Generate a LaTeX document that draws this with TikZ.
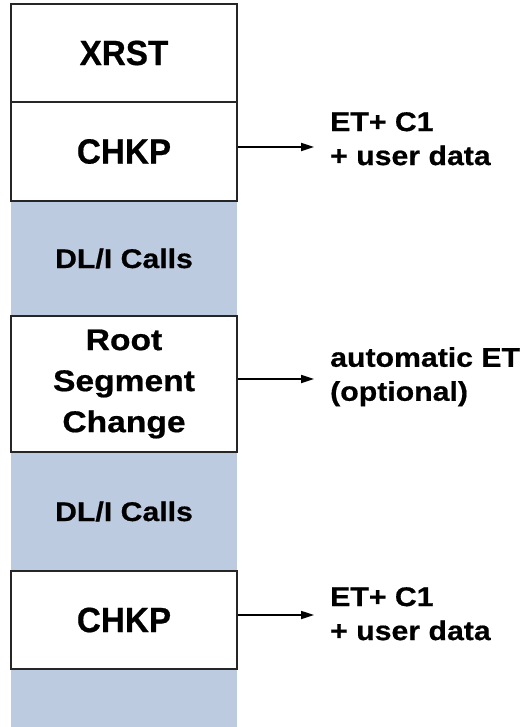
\documentclass[tikz,border=0pt]{standalone}
\usepackage{fontspec}
\setmainfont{Liberation Sans}
\newfontfamily\widefont{Liberation Sans}[FakeStretch=1.12,FakeBold=0.6]
\newfontfamily\stepfont{Liberation Sans}[FakeStretch=0.95,FakeBold=0.6]
\usetikzlibrary{arrows.meta, positioning}

\definecolor{callsblue}{RGB}{189,203,224}

\tikzset{
  stepbox/.style={draw=black!85, line width=1.2pt, fill=white, minimum width=226pt,
    inner sep=0pt, font=\stepfont\fontsize{35}{40}\selectfont\bfseries},
  callsbox/.style={fill=callsblue, minimum width=226pt, inner sep=0pt,
    font=\widefont\fontsize{27}{32}\selectfont\bfseries},
  outlbl/.style={anchor=north west, align=left, inner sep=0pt,
    font=\widefont\fontsize{27}{34}\selectfont\bfseries},
  outarrow/.style={-{Triangle[length=13pt,width=8pt]}, line width=1.7pt},
}

\begin{document}
\begin{tikzpicture}[x=1pt,y=-1pt]
  \useasboundingbox (0,0) rectangle (526,727);
  % blue call areas
  \node[callsbox, minimum height=115pt] (callsA) at (124,258.5) {DL/I Calls};
  \node[callsbox, minimum height=119pt] (callsB) at (124,511.5) {DL/I Calls};
  \node[callsbox, minimum height=58pt]  (tail)   at (124,698) {};
  % program steps
  \node[stepbox, minimum height=98pt]  (xrst)  at (124,53) {XRST};
  \node[stepbox, minimum height=99pt]  (chkpA) at (124,151.5) {CHKP};
  \node[stepbox, minimum height=136pt, align=center,
        font=\widefont\fontsize{30}{41}\selectfont\bfseries] (root) at (124,384) {Root\\Segment\\Change};
  \node[stepbox, minimum height=98pt]  (chkpB) at (124,620) {CHKP};
  % outputs
  \node[outlbl] (lblA) at (330,112) {ET+ C1\\+ user data};
  \node[outlbl] (lblR) at (330,347) {automatic ET\\(optional)};
  \node[outlbl] (lblB) at (330,587) {ET+ C1\\+ user data};
  \coordinate (tipA) at (314,147);
  \coordinate (tipR) at (314,379);
  \coordinate (tipB) at (314,615);
  \draw[outarrow] (chkpA.east |- tipA) -- (tipA);
  \draw[outarrow] (root.east |- tipR) -- (tipR);
  \draw[outarrow] (chkpB.east |- tipB) -- (tipB);
\end{tikzpicture}
\end{document}
